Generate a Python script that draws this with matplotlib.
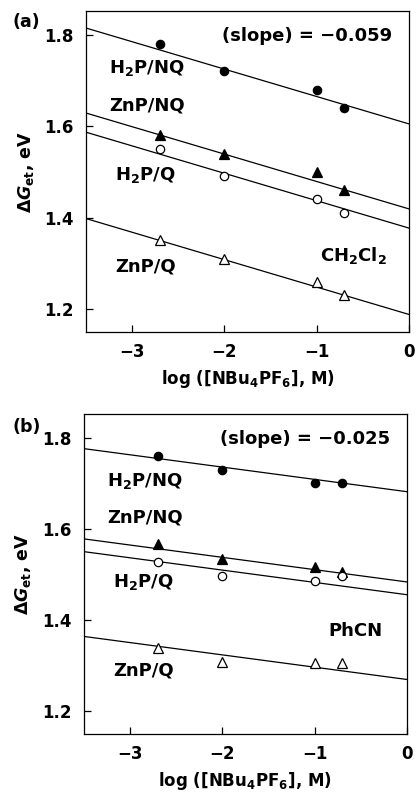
import numpy as np
import matplotlib.pyplot as plt

plt.rcParams['font.family'] = ['DejaVu Sans']
plt.rcParams['font.weight'] = 'bold'
plt.rcParams['mathtext.fontset'] = 'custom'
plt.rcParams['mathtext.rm'] = 'DejaVu Sans:bold'
plt.rcParams['mathtext.it'] = 'DejaVu Sans:bold:italic'
plt.rcParams['mathtext.bf'] = 'DejaVu Sans:bold'

# log([NBu4PF6], M)
x_conc = [-2.7, -2.0, -1.0, -0.7]
systems = ['H$_2$P/NQ', 'ZnP/NQ', 'H$_2$P/Q', 'ZnP/Q']

# panel (a) CH2Cl2
dg_a_h2p_nq = [1.78, 1.72, 1.68, 1.64]
dg_a_znp_nq = [1.58, 1.54, 1.50, 1.46]
dg_a_h2p_q = [1.55, 1.49, 1.44, 1.41]
dg_a_znp_q = [1.35, 1.31, 1.26, 1.23]
slope_a = -0.060
intercepts_a = [1.605, 1.419, 1.377, 1.188]

# panel (b) PhCN
dg_b_h2p_nq = [1.76, 1.73, 1.70, 1.70]
dg_b_znp_nq = [1.567, 1.535, 1.516, 1.506]
dg_b_h2p_q = [1.528, 1.497, 1.487, 1.496]
dg_b_znp_q = [1.338, 1.308, 1.307, 1.307]
slope_b = -0.027
intercepts_b = [1.682, 1.484, 1.456, 1.270]

# marker style per system: (marker, filled)
styles = [('o', True), ('^', True), ('o', False), ('^', False)]

fig = plt.figure(figsize=(4.17, 7.92), dpi=100)
ax_a = fig.add_axes([0.206, 0.581, 0.775, 0.405])
ax_b = fig.add_axes([0.201, 0.073, 0.775, 0.404])


def draw_panel(ax, series, slope, intercepts, slope_txt, solvent, solv_x, solv_y, label_ys):
    xfit = np.array([-3.5, 0.0])
    for ys, b, (m, filled) in zip(series, intercepts, styles):
        ax.plot(xfit, slope * xfit + b, color='black', lw=0.9)
        ax.plot(x_conc, ys, linestyle='none', marker=m, ms=6.5 if m == '^' else 6,
                mfc='black' if filled else 'white', mec='black', mew=0.9)
    for name, yl in zip(systems, label_ys):
        x0 = -3.25 if 'NQ' in name else -3.18
        ax.text(x0, yl, name, fontsize=13, fontweight='bold', va='center', ha='left')
    ax.text(-2.03, 1.797, '(slope) = \u2212' + slope_txt, fontsize=13,
            fontweight='bold', va='center', ha='left')
    ax.text(solv_x, solv_y, solvent, fontsize=13, fontweight='bold', va='center', ha='left')

    ax.set_xlim(-3.5, 0)
    ax.set_ylim(1.15, 1.852)
    ax.set_xticks([-3, -2, -1, 0])
    ax.set_xticklabels(['\u22123', '\u22122', '\u22121', '0'])
    ax.set_yticks([1.2, 1.4, 1.6, 1.8])
    ax.tick_params(direction='in', length=5, width=0.9, labelsize=12, top=False, right=False)
    ax.tick_params(axis='y', pad=9)
    ax.tick_params(axis='x', pad=8)
    for sp in ax.spines.values():
        sp.set_linewidth(0.9)
    ax.set_xlabel('log ([NBu$_4$PF$_6$], M)', fontsize=12, fontweight='bold', labelpad=5)
    ax.set_ylabel(r'$\it{\Delta G}_{\rm et}$, eV', fontsize=12.5, fontweight='bold', labelpad=6)


draw_panel(ax_a, [dg_a_h2p_nq, dg_a_znp_nq, dg_a_h2p_q, dg_a_znp_q], slope_a, intercepts_a,
           '0.059', 'CH$_2$Cl$_2$', -0.96, 1.316, [1.727, 1.646, 1.494, 1.294])
draw_panel(ax_b, [dg_b_h2p_nq, dg_b_znp_nq, dg_b_h2p_q, dg_b_znp_q], slope_b, intercepts_b,
           '0.025', 'PhCN', -0.85, 1.376, [1.705, 1.626, 1.484, 1.289])

fig.text(0.03, 0.972, '(a)', fontsize=12.5, fontweight='bold', va='center', ha='left')
fig.text(0.03, 0.461, '(b)', fontsize=12.5, fontweight='bold', va='center', ha='left')

fig.savefig('out.png', dpi=100)
